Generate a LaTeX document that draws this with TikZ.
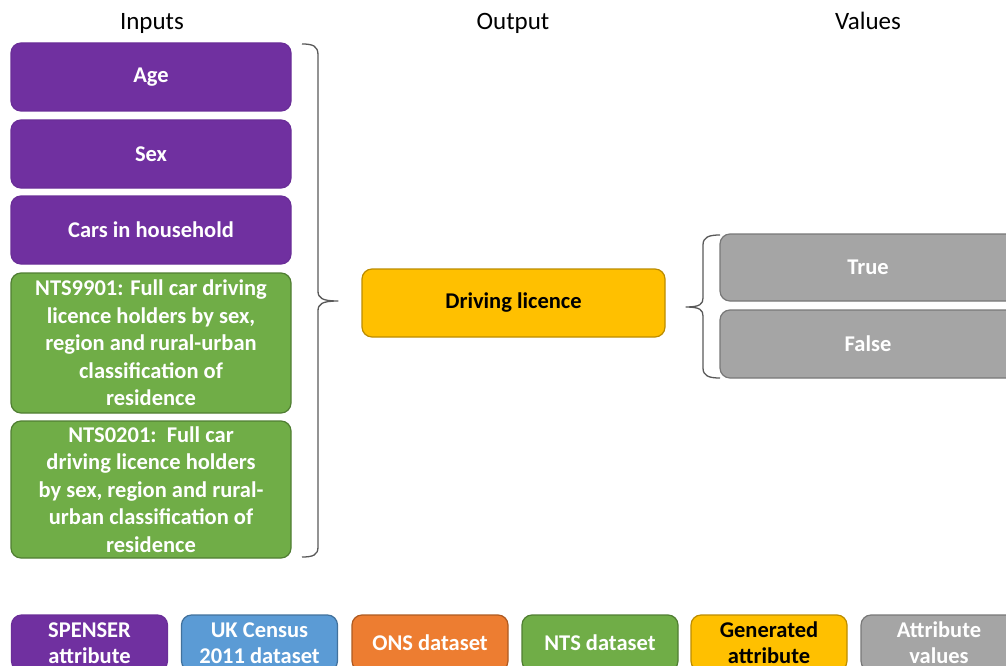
\documentclass[tikz,border=0pt]{standalone}
\usepackage{fontspec}
\setmainfont{Carlito}
\definecolor{spenserfill}{HTML}{7030A0}
\definecolor{spenseredge}{HTML}{6A2E98}
\definecolor{censusfill}{HTML}{5B9BD5}
\definecolor{censusedge}{HTML}{41719C}
\definecolor{onsfill}{HTML}{ED7D31}
\definecolor{onsedge}{HTML}{AE5A21}
\definecolor{ntsfill}{HTML}{70AD47}
\definecolor{ntsedge}{HTML}{507E32}
\definecolor{genfill}{HTML}{FFC000}
\definecolor{genedge}{HTML}{BC8C00}
\definecolor{valfill}{HTML}{A5A5A5}
\definecolor{valedge}{HTML}{787878}
\definecolor{bracecol}{HTML}{595959}
\tikzset{
  card/.style 2 args={draw=#1, fill=#2, line width=1.2pt, rounded corners=10pt,
    inner sep=0pt, align=center, text=white,
    font=\bfseries\fontsize{22.5}{27.5}\selectfont},
  inputbox/.style={minimum width=280pt, minimum height=68pt},
  legendbox/.style={minimum width=156pt, minimum height=56pt,
    font=\bfseries\fontsize{22.5}{26}\selectfont},
  heading/.style={font=\fontsize{25}{28}\selectfont, text=black, inner sep=0pt, anchor=base},
  bracepath/.style={draw=bracecol, line width=1.3pt, line join=round}
}
\begin{document}
\begin{tikzpicture}[x=1pt,y=-1pt]
\useasboundingbox (0,0) rectangle (1006,666);
\clip (0,0) rectangle (1006,666);

% column headings
\node[heading] (hin)  at (152,30) {Inputs};
\node[heading] (hout) at (513,30) {Output};
\node[heading] (hval) at (868,30) {Values};

% inputs
\node[card={spenseredge}{spenserfill}, inputbox] (age)  at (151,77)  {Age};
\node[card={spenseredge}{spenserfill}, inputbox] (sex)  at (151,154) {Sex};
\node[card={spenseredge}{spenserfill}, inputbox] (cars) at (151,230) {Cars in household};
\node[card={ntsedge}{ntsfill}, minimum width=280pt, minimum height=140pt] (nts9901) at (151,343)
  {NTS9901: Full car driving\\licence holders by sex,\\region and rural-urban\\classification of\\residence};
\node[card={ntsedge}{ntsfill}, minimum width=280pt, minimum height=137pt] (nts0201) at (151,489.5)
  {NTS0201:\ \ Full car\\driving licence holders\\by sex, region and rural-\\urban classification of\\residence};

% output
\node[card={genedge}{genfill}, text=black, minimum width=303pt, minimum height=68pt] (licence) at (513.5,303)
  {Driving licence};

% values
\node[card={valedge}{valfill}, minimum width=296pt, minimum height=67pt] (true)  at (868,267.5) {True};
\node[card={valedge}{valfill}, minimum width=296pt, minimum height=68pt] (false) at (868,344)   {False};

% braces
\coordinate (lbtop) at (302,44);
\coordinate (lbtip) at (338,301);
\coordinate (lbbot) at (302,557);
\path[bracepath] (lbtop) .. controls (313,44) and (318,46) .. (318,55) -- (318,291)
  .. controls (318,298) and (322,301) .. (lbtip)
  .. controls (322,301) and (318,304) .. (318,311) -- (318,547)
  .. controls (318,555) and (313,557) .. (lbbot);

\coordinate (rbtop) at (720,235);
\coordinate (rbtip) at (686,307);
\coordinate (rbbot) at (720,378);
\path[bracepath] (rbtop) .. controls (709,235) and (703,237) .. (703,245) -- (703,298)
  .. controls (703,304) and (700,307) .. (rbtip)
  .. controls (700,307) and (703,310) .. (703,316) -- (703,368)
  .. controls (703,376) and (709,378) .. (rbbot);

% legend
\node[card={spenseredge}{spenserfill}, legendbox] (lgspenser) at (89.5,643)  {SPENSER\\attribute};
\node[card={censusedge}{censusfill}, legendbox]   (lgcensus)  at (259.5,643) {UK Census\\2011 dataset};
\node[card={onsedge}{onsfill}, legendbox]         (lgons)     at (430,643)   {ONS dataset};
\node[card={ntsedge}{ntsfill}, legendbox]         (lgnts)     at (600,643)   {NTS dataset};
\node[card={genedge}{genfill}, legendbox, text=black] (lggen) at (769,643)   {Generated\\attribute};
\node[card={valedge}{valfill}, legendbox]         (lgval)     at (939,643)   {Attribute\\values};
\end{tikzpicture}
\end{document}
